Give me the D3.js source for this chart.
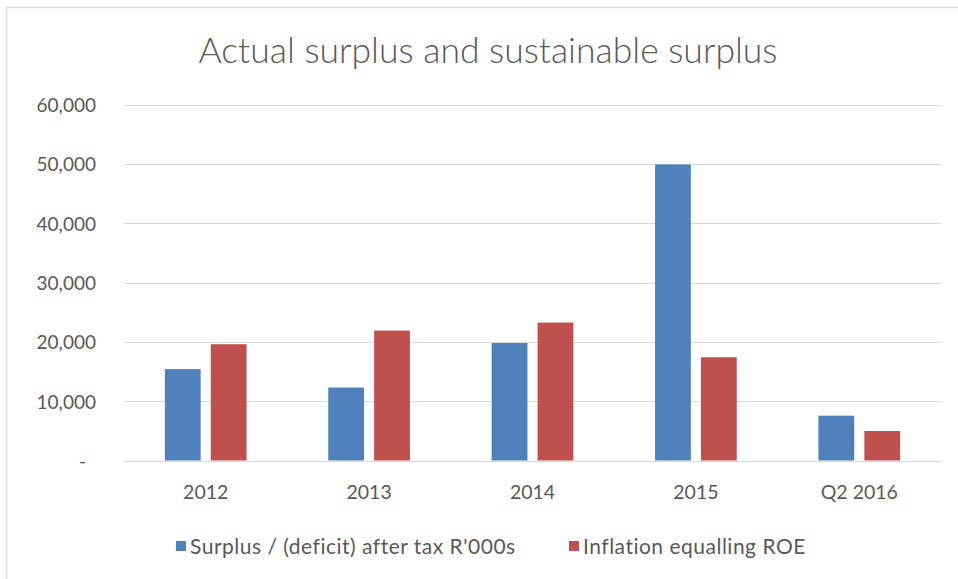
<!DOCTYPE html>
<html>
<head>
<meta charset="utf-8">
<script src="https://cdn.jsdelivr.net/npm/d3@7"></script>
<style>
  html, body { margin: 0; padding: 0; background: #ffffff; }
  svg { display: block; }
  text { font-family: Lato, "Open Sans", sans-serif; fill: #595959; }
</style>
</head>
<body>
<svg id="chart" width="958" height="579"></svg>
<script>
// Reporting periods
const categories = ["2012", "2013", "2014", "2015", "Q2 2016"];
// Series names
const seriesNames = ["Surplus / (deficit) after tax R'000s", "Inflation equalling ROE"];
// Values in R'000s
const surplusValues = [15400, 12300, 19800, 49900, 7550];
const inflationValues = [19600, 21900, 23250, 17400, 4970];
// Value axis ticks
const yTicks = [0, 10000, 20000, 30000, 40000, 50000, 60000];
const colors = ["#4F81BD", "#C0504D"];

const W = 958, H = 579;
const plot = { left: 124, right: 941, top: 104.5, bottom: 460.5 };

const svg = d3.select("#chart");

// chart frame (top and left edges visible)
svg.append("line").attr("x1", 6).attr("x2", W).attr("y1", 7.5).attr("y2", 7.5)
  .attr("stroke", "#d9d9d9").attr("stroke-width", 1.5);
svg.append("line").attr("x1", 6.5).attr("x2", 6.5).attr("y1", 7).attr("y2", H)
  .attr("stroke", "#d9d9d9").attr("stroke-width", 1.5);

const x0 = d3.scaleBand().domain(categories).range([plot.left, plot.right])
  .paddingInner(0.5).paddingOuter(0.25);
const x1 = d3.scaleBand().domain(d3.range(seriesNames.length)).range([0, x0.bandwidth()])
  .paddingInner(0.22);
const y = d3.scaleLinear().domain([0, 60000]).range([plot.bottom, plot.top]);

// gridlines
svg.append("g")
  .selectAll("line").data(yTicks).join("line")
  .attr("x1", plot.left).attr("x2", plot.right)
  .attr("y1", d => Math.round(y(d)) + 0.5).attr("y2", d => Math.round(y(d)) + 0.5)
  .attr("stroke", "#d9d9d9").attr("stroke-width", 1);

// value axis labels
const fmt = d3.format(",");
const yAxis = d3.axisLeft(y).tickValues(yTicks)
  .tickFormat(d => d === 0 ? "-" : fmt(d)).tickSize(0).tickPadding(0);
const yg = svg.append("g").attr("transform", `translate(${96},0)`).call(yAxis);
yg.select(".domain").remove();
yg.selectAll("text").style("font-size", "19px").attr("fill", "#595959")
  .attr("font-family", "Lato, sans-serif").attr("dy", "0.36em");
yg.selectAll(".tick").filter(d => d === 0).select("text").attr("dx", "-10");

// bars
const rows = categories.map((c, i) => ({ cat: c, vals: [surplusValues[i], inflationValues[i]] }));
svg.append("g").selectAll("g").data(rows).join("g")
  .attr("transform", d => `translate(${x0(d.cat)},0)`)
  .selectAll("rect").data(d => d.vals.map((v, k) => ({ v, k }))).join("rect")
  .attr("x", d => x1(d.k)).attr("width", x1.bandwidth())
  .attr("y", d => y(d.v)).attr("height", d => y(0) - y(d.v))
  .attr("fill", d => colors[d.k]);

// category axis labels
const xAxis = d3.axisBottom(x0).tickSize(0).tickPadding(0);
const xg = svg.append("g").attr("transform", `translate(0,${484})`).call(xAxis);
xg.select(".domain").remove();
xg.selectAll("text").style("font-size", "19.5px").attr("fill", "#595959")
  .attr("font-family", "Lato, sans-serif").attr("dy", "0.76em");

// title
svg.append("text").attr("x", 488).attr("y", 63).attr("text-anchor", "middle")
  .style("font-size", "35.5px").style("font-weight", 300).text("Actual surplus and sustainable surplus");

// legend
const legendX = [176, 569];
const lg = svg.append("g").selectAll("g").data(seriesNames).join("g")
  .attr("transform", (d, i) => `translate(${legendX[i]},541)`);
lg.append("rect").attr("width", 10).attr("height", 10).attr("fill", (d, i) => colors[i]);
lg.append("text").attr("x", 14).attr("y", 12.5).style("font-size", "21px")
  .style("letter-spacing", "0.5px").text(d => d);
</script>
</body>
</html>
